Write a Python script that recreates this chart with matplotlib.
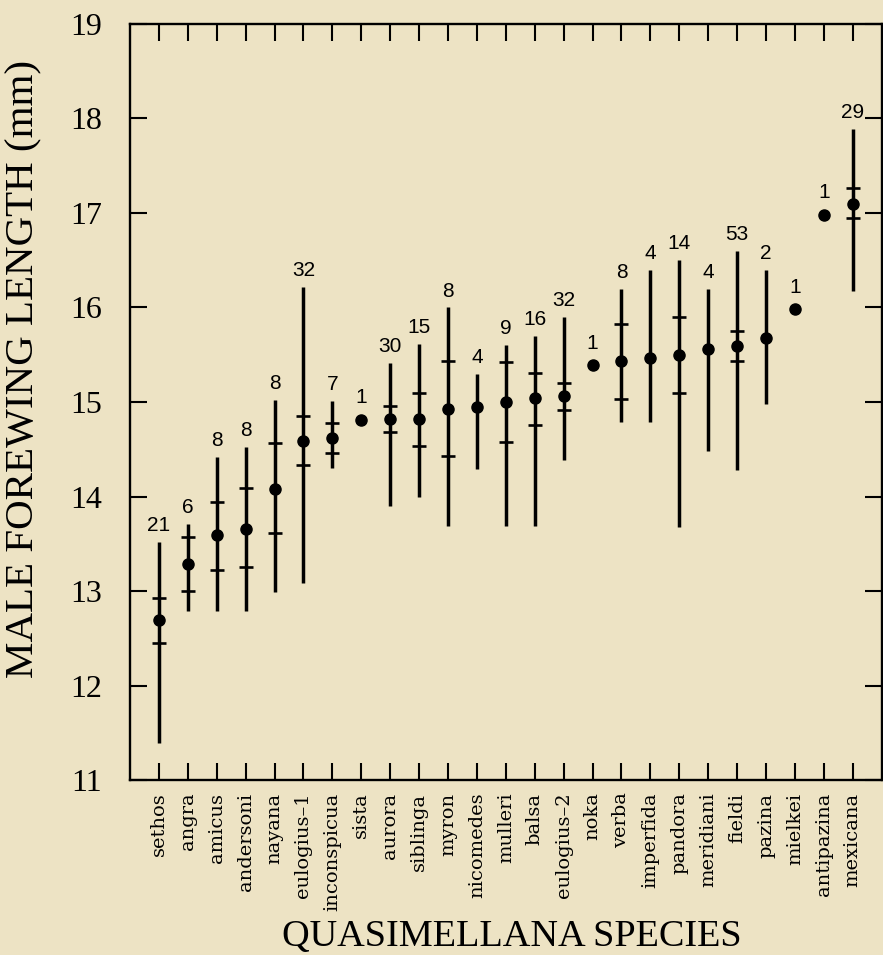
import numpy as np
import matplotlib
matplotlib.use('Agg')
import matplotlib.pyplot as plt

nan = np.nan

# species along the x axis
species = ['sethos', 'angra', 'amicus', 'andersoni', 'nayana', 'eulogius\u20131',
           'inconspicua', 'sista', 'aurora', 'siblinga', 'myron', 'nicomedes',
           'mulleri', 'balsa', 'eulogius\u20132', 'noka', 'verba', 'imperfida',
           'pandora', 'meridiani', 'fieldi', 'pazina', 'mielkei', 'antipazina',
           'mexicana']
means = [12.69, 13.29, 13.59, 13.66, 14.08, 14.59, 14.62, 14.81, 14.82, 14.82,
         14.93, 14.95, 15.00, 15.04, 15.06, 15.39, 15.43, 15.47, 15.50, 15.56,
         15.59, 15.68, 15.98, 16.98, 17.10]
range_lo = [11.39, 12.79, 12.79, 12.79, 12.99, 13.08, 14.30, nan, 13.90, 13.99,
            13.69, 14.29, 13.69, 13.69, 14.39, nan, 14.79, 14.79, 13.68, 14.48,
            14.28, 14.98, nan, nan, 16.17]
range_hi = [13.52, 13.71, 14.42, 14.52, 15.02, 16.22, 15.01, nan, 15.41, 15.61,
            16.00, 15.30, 15.60, 15.70, 15.90, nan, 16.20, 16.40, 16.50, 16.20,
            16.60, 16.40, nan, nan, 17.89]
sd_lo = [12.45, 13.00, 13.22, 13.25, 13.61, 14.33, 14.46, nan, 14.68, 14.53,
         14.43, nan, 14.58, 14.76, 14.92, nan, 15.03, nan, 15.10, nan,
         15.43, nan, nan, nan, 16.95]
sd_hi = [12.93, 13.57, 13.94, 14.09, 14.57, 14.85, 14.78, nan, 14.96, 15.10,
         15.43, nan, 15.42, 15.31, 15.20, nan, 15.83, nan, 15.90, nan,
         15.75, nan, nan, nan, 17.26]
n_spec = [21, 6, 8, 8, 8, 32, 7, 1, 30, 15, 8, 4, 9, 16, 32, 1, 8, 4, 14, 4,
          53, 2, 1, 1, 29]

bg = '#ede3c4'
fig = plt.figure(figsize=(8.83, 9.55), dpi=100, facecolor=bg)
ax = fig.add_axes([0.1472, 0.1832, 0.8513, 0.7917])
ax.set_facecolor(bg)

x = np.arange(1, len(species) + 1)

# range lines
ax.vlines(x, range_lo, range_hi, color='black', lw=2.5)
# standard deviation bars
ax.plot(x, sd_lo, ls='none', marker='_', ms=9.5, mew=1.9, color='black')
ax.plot(x, sd_hi, ls='none', marker='_', ms=9.5, mew=1.9, color='black')
# means
ax.plot(x, means, ls='none', marker='o', ms=8, color='black')

# sample sizes above each line
for xi, m, hi, n in zip(x, means, range_hi, n_spec):
    top = m if np.isnan(hi) else hi
    off = 9 if np.isnan(hi) else 5
    ax.annotate(str(n), (xi, top), xytext=(0, off), textcoords='offset points',
                ha='center', va='bottom', fontsize=15,
                family='Liberation Sans')

ax.set_xlim(0, 26)
ax.set_ylim(11, 19)
ax.set_xticks(x)
ax.set_xticklabels(species, rotation=90, family='DejaVu Serif', fontsize=14)
ax.set_yticks(np.arange(11, 20))
for t in ax.get_yticklabels():
    t.set_family('Liberation Serif')
    t.set_fontsize(23)

ax.tick_params(axis='both', direction='in', length=12, width=1.5,
               top=True, right=True, color='black')
ax.tick_params(axis='y', pad=20)
ax.tick_params(axis='x', pad=9)
for s in ax.spines.values():
    s.set_linewidth(1.7)

ax.set_ylabel('MALE FOREWING LENGTH (mm)', family='Liberation Serif',
              fontsize=29.5)
ax.yaxis.set_label_coords(-0.116, 0.544)
ax.set_xlabel('QUASIMELLANA SPECIES', family='Liberation Serif',
              fontsize=27.5)
ax.xaxis.set_label_coords(0.508, -0.185)

fig.savefig('out.png', dpi=100, facecolor=bg)
